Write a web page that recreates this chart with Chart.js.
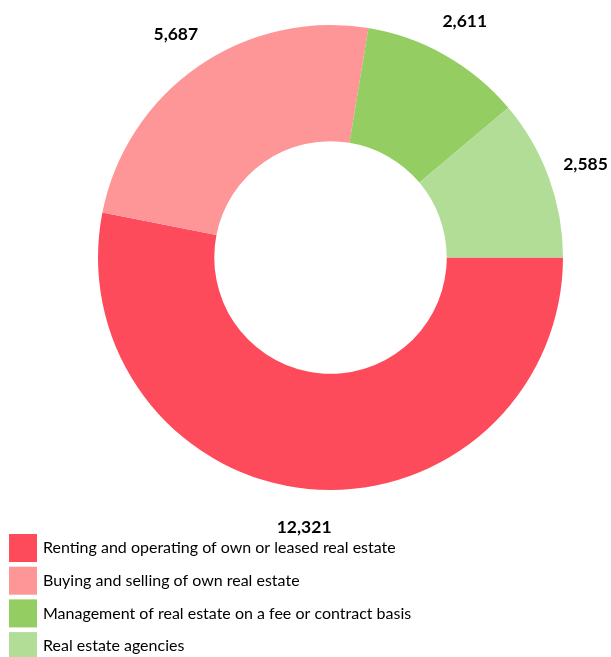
<!DOCTYPE html>
<html>
<head>
<meta charset="utf-8">
<script src="https://cdn.jsdelivr.net/npm/chart.js@4/dist/chart.umd.min.js"></script>
<style>
  html, body { margin: 0; padding: 0; background: #ffffff; }
  #wrap { width: 611px; height: 657px; overflow: hidden; }
</style>
</head>
<body>
<div id="wrap"><canvas id="c" width="611" height="657"></canvas></div>
<script>
const categories = [
  'Renting and operating of own or leased real estate',
  'Buying and selling of own real estate',
  'Management of real estate on a fee or contract basis',
  'Real estate agencies'
];
const values = [12321, 5687, 2611, 2585];
const valueLabels = ['12,321', '5,687', '2,611', '2,585'];
const colors = ['#fe4b5c', '#fe9597', '#94cd62', '#b1dd96'];

const labelFont = 'bold 17.5px Lato, "Open Sans", sans-serif';
const legendFont = '16px Lato, "Open Sans", sans-serif';

const valueLabelPlugin = {
  id: 'valueLabels',
  afterDatasetsDraw(chart) {
    const ctx = chart.ctx;
    const meta = chart.getDatasetMeta(0);
    ctx.save();
    ctx.font = labelFont;
    ctx.fillStyle = '#000000';
    ctx.textAlign = 'center';
    ctx.textBaseline = 'middle';
    meta.data.forEach((arc, i) => {
      const p = arc.getProps(['x', 'y', 'startAngle', 'endAngle', 'outerRadius'], true);
      const mid = (p.startAngle + p.endAngle) / 2;
      const r = p.outerRadius + 39;
      ctx.fillText(valueLabels[i], p.x + Math.cos(mid) * r, p.y + Math.sin(mid) * r);
    });
    ctx.restore();
  }
};

const legendPlugin = {
  id: 'listLegend',
  afterDraw(chart) {
    const ctx = chart.ctx;
    const ds = chart.data.datasets[0];
    const x0 = 9, y0 = 534, box = 28, pitch = 32.7;
    ctx.save();
    ctx.font = legendFont;
    ctx.textAlign = 'left';
    ctx.textBaseline = 'middle';
    chart.data.labels.forEach((lab, i) => {
      const y = y0 + i * pitch;
      ctx.fillStyle = ds.backgroundColor[i];
      ctx.fillRect(x0, y, box, box);
      ctx.fillStyle = '#000000';
      ctx.fillText(lab, x0 + box + 6, y + box / 2);
    });
    ctx.restore();
  }
};

new Chart(document.getElementById('c'), {
  type: 'doughnut',
  data: {
    labels: categories,
    datasets: [{
      data: values,
      backgroundColor: colors,
      borderWidth: 0,
      hoverOffset: 0
    }]
  },
  options: {
    responsive: false,
    animation: false,
    rotation: 90,
    cutout: '50%',
    layout: { padding: { top: 25, bottom: 167, left: 98, right: 48 } },
    plugins: {
      legend: { display: false },
      tooltip: { enabled: false }
    }
  },
  plugins: [valueLabelPlugin, legendPlugin]
});
</script>
</body>
</html>
